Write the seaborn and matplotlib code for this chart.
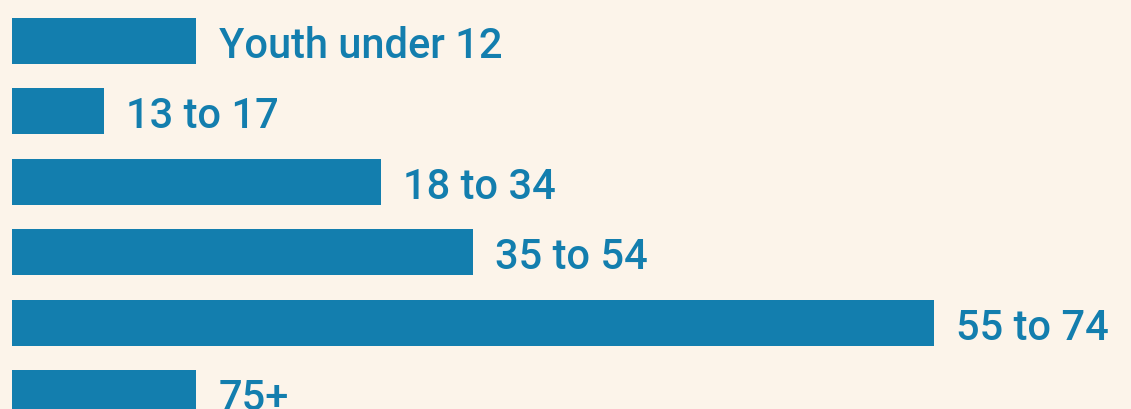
import matplotlib
matplotlib.use("Agg")
import matplotlib.pyplot as plt
import seaborn as sns
import pandas as pd

# Données
groupes = ["Youth under 12", "13 to 17", "18 to 34", "35 to 54", "55 to 74", "75+"]
valeurs = [2, 1, 4, 5, 10, 2]

BLEU = "#137eae"
FOND = "#fcf4ea"

df = pd.DataFrame({"groupe": groupes, "valeur": valeurs})

sns.set_style("white")
plt.rcParams["font.family"] = ["Roboto", "DejaVu Sans"]

fig = plt.figure(figsize=(11.31, 4.10), dpi=100, facecolor=FOND)
ax = fig.add_axes([0, 0, 1, 1])
ax.set_facecolor(FOND)

sns.barplot(data=df, y="groupe", x="valeur", color=BLEU, saturation=1,
            width=0.653, orient="h", linewidth=0, ax=ax)

# Étiquettes à droite des barres
for i, row in df.iterrows():
    ax.annotate(row["groupe"], xy=(row["valeur"], i), xytext=(16, 0),
                textcoords="offset points", ha="left", va="center_baseline",
                fontsize=30, fontweight="medium", color=BLEU)

ax.set_xlim(-12 / 92.2, (1131 - 12) / 92.2)
ax.set_ylim((410 - 42) / 70.4, -42 / 70.4)
ax.set_axis_off()

plt.savefig("out.png", dpi=100, facecolor=FOND)
plt.close()
